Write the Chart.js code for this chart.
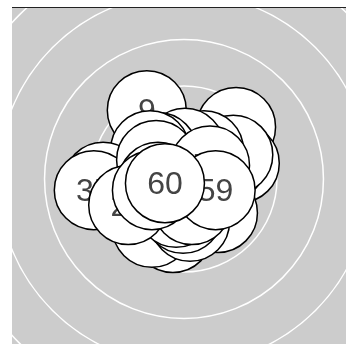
<!DOCTYPE html>
<html lang="en">
<head>
  <meta charset="UTF-8">
  <title>Bubble cluster</title>
  <script src="https://cdn.jsdelivr.net/npm/chart.js"></script>
  <style>
    html, body { margin: 0; padding: 0; overflow: hidden; background: #fff; }
    /* bubble charts reserve room for the bubble radius round the plot, so the box is pulled out by that much */
    #chart-container { position: absolute; left: -29px; top: -34px; width: 426px; height: 426px; }
  </style>
</head>
<body>
  <div id="chart-container">
    <canvas id="bubbleChart"></canvas>
  </div>
  <script>
    // bubbles listed bottom to top (last one is drawn on top); '' = label hidden under other bubbles
    const bubbleLabels = ['', '9', '', '', '', '', '', '', '', '', '', '', '', '', '', '', '', '', '35', '', '27', '', '57', '', '59', '60'];
    const bubbleX = [1.12, -0.80, 1.20, 0.95, 1.06, 0.43, 0.02, -0.56, -0.73, -0.24, -0.69, 0.73, 0.13, -0.02, -0.17, 0.02, 0.17, -1.74, -1.94, -0.60, -1.20, -0.56, 0.56, -0.69, 0.68, -0.41];
    const bubbleY = [1.12, 1.48, 0.34, 0.41, 0.52, 0.62, 0.67, 0.58, 0.62, -1.16, -1.05, -0.73, -0.92, -0.75, -0.62, -0.41, -0.56, -0.06, -0.24, 0.41, -0.56, -0.06, 0.29, -0.24, -0.24, -0.09];
    const ringValues = [1, 2, 3, 4, 5];

    // grey panel with white rings, labels written on each bubble as it is drawn
    const polarBackground = {
      id: 'polarBackground',
      beforeDraw(chart) {
        const { ctx, chartArea, scales: { x, y } } = chart;
        ctx.save();
        ctx.beginPath();
        ctx.rect(chartArea.left, chartArea.top, chartArea.width, chartArea.height);
        ctx.clip();
        ctx.fillStyle = '#cccccc';
        ctx.fillRect(chartArea.left, chartArea.top, chartArea.width, chartArea.height);
        const cx = x.getPixelForValue(0);
        const cy = y.getPixelForValue(0);
        ctx.strokeStyle = '#ffffff';
        ctx.lineWidth = 1.5;
        ringValues.forEach(v => {
          const r = x.getPixelForValue(v) - cx;
          ctx.beginPath();
          ctx.arc(cx, cy, r, 0, Math.PI * 2);
          ctx.stroke();
        });
        ctx.restore();
      },
      afterDatasetDraw(chart, args) {
        const el = args.meta.data[0];
        const ctx = chart.ctx;
        ctx.save();
        ctx.font = '32px "Liberation Sans", Arial, sans-serif';
        ctx.fillStyle = '#444444';
        ctx.textAlign = 'center';
        ctx.textBaseline = 'middle';
        ctx.fillText(bubbleLabels[args.index], el.x, el.y + 2);
        ctx.restore();
      }
    };

    const datasets = bubbleLabels.map((label, i) => ({
      label: label,
      data: [{ x: bubbleX[i], y: bubbleY[i] }],
      radius: 39.5,
      backgroundColor: '#ffffff',
      borderColor: '#000000',
      borderWidth: 1.5,
      order: bubbleLabels.length - i
    }));

    const ctx = document.getElementById('bubbleChart').getContext('2d');
    new Chart(ctx, {
      type: 'bubble',
      data: { datasets: datasets },
      options: {
        responsive: true,
        maintainAspectRatio: false,
        animation: false,
        events: [],
        layout: { padding: 0 },
        plugins: {
          legend: { display: false },
          tooltip: { enabled: false }
        },
        scales: {
          x: {
            type: 'linear',
            position: 'top',
            min: -3.7,
            max: 3.7,
            grid: { display: false, drawTicks: false },
            ticks: { display: false },
            border: { display: true, color: '#222222', width: 1 }
          },
          y: {
            type: 'linear',
            min: -3.7,
            max: 3.7,
            display: false
          }
        }
      },
      plugins: [polarBackground]
    });
  </script>
</body>
</html>
